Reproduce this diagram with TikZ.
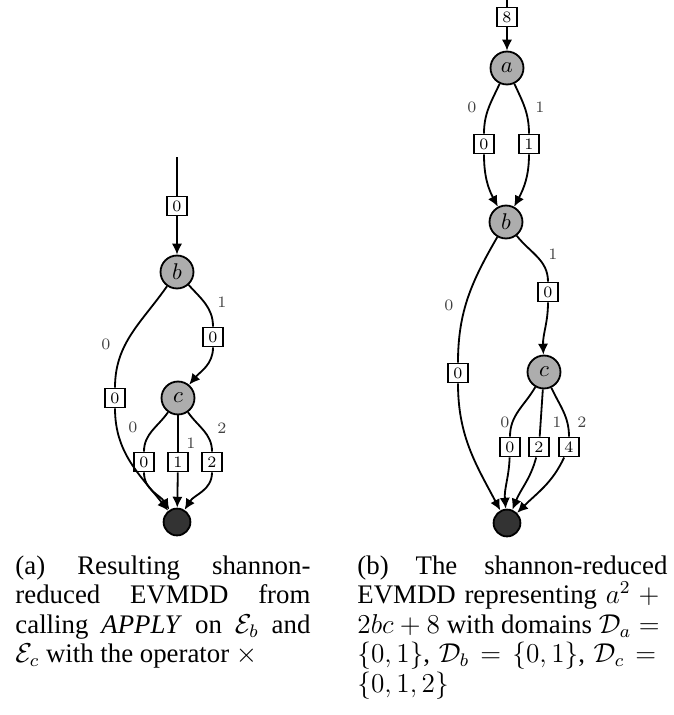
\documentclass[tikz,border=0pt]{standalone}
\usepackage{fontspec}
\setmainfont{Liberation Serif}
\usetikzlibrary{arrows.meta}

\begin{document}
\begin{tikzpicture}[x=0.44pt, y=0.44pt,
    var/.style={circle, draw, thick, fill=black!32, minimum size=14.5pt, inner sep=0pt},
    term/.style={circle, draw, thick, fill=black!80, minimum size=11.8pt, inner sep=0pt},
    ev/.style={draw, thick, fill=white, minimum width=8.8pt, minimum height=8.4pt, inner sep=0pt, font=\scriptsize},
    lbl/.style={font=\scriptsize, text=black!75},
    arc/.style={thick, -{Latex[length=4.8pt,width=4.5pt]}},
    capt/.style={anchor=north west, inner sep=0pt, align=justify,
        font=\fontsize{11.8}{13}\selectfont}]
    \useasboundingbox (0,0) rectangle (673,-715);

    % (a) resultado de APPLY
    \coordinate (ltop) at (177,-157);
    \node[ev] (le) at (177,-206) {$0$};
    \node[var] (lb) at (177,-272) {$b$};
    \node[ev] (lb0) at (115,-398) {$0$};
    \node[ev] (lb1) at (213,-337) {$0$};
    \node[var] (lc) at (178,-398) {$c$};
    \node[ev] (lc0) at (144,-462) {$0$};
    \node[ev] (lc1) at (178,-462) {$1$};
    \node[ev] (lc2) at (212,-462) {$2$};
    \node[term] (lt) at (177,-522) {};

    \draw[thick] (ltop) -- (le);
    \draw[arc] (le) -- (lb);
    \draw[thick] (lb) to[out=235,in=90] (lb0);
    \draw[arc] (lb0) to[out=-90,in=128] (lt);
    \draw[thick] (lb) to[out=-48,in=90] (lb1);
    \draw[arc] (lb1) to[out=-90,in=50] (lc);
    \draw[thick] (lc) to[out=235,in=90] (lc0);
    \draw[arc] (lc0) to[out=-90,in=122] (lt);
    \draw[thick] (lc) -- (lc1);
    \draw[arc] (lc1) -- (lt);
    \draw[thick] (lc) to[out=-55,in=90] (lc2);
    \draw[arc] (lc2) to[out=-90,in=58] (lt);

    \node[lbl] (la1) at (222,-302) {$1$};
    \node[lbl] (la0) at (106,-344) {$0$};
    \node[lbl] (lac0) at (133,-427) {$0$};
    \node[lbl] (lac1) at (191,-443) {$1$};
    \node[lbl] (lac2) at (222,-428) {$2$};

    % (b) a^2 + 2bc + 8
    \coordinate (rtop) at (507,0);
    \node[ev] (re) at (507,-17) {$8$};
    \node[var] (ra) at (507,-68) {$a$};
    \node[ev] (ra0) at (484,-144) {$0$};
    \node[ev] (ra1) at (529,-144) {$1$};
    \node[var] (rb) at (506,-222) {$b$};
    \node[ev] (rb1) at (548,-292) {$0$};
    \node[ev] (rb0) at (458,-373) {$0$};
    \node[var] (rc) at (544,-372) {$c$};
    \node[ev] (rc0) at (510,-447) {$0$};
    \node[ev] (rc1) at (539,-447) {$2$};
    \node[ev] (rc2) at (569,-447) {$4$};
    \node[term] (rt) at (507,-523) {};

    \draw[thick] (rtop) -- (re);
    \draw[arc] (re) -- (ra);
    \draw[thick] (ra) to[out=245,in=90] (ra0);
    \draw[arc] (ra0) to[out=-90,in=118] (rb);
    \draw[thick] (ra) to[out=-65,in=90] (ra1);
    \draw[arc] (ra1) to[out=-90,in=62] (rb);
    \draw[thick] (rb) to[out=-52,in=90] (rb1);
    \draw[arc] (rb1) to[out=-90,in=92] (rc);
    \draw[thick] (rb) to[out=240,in=90] (rb0);
    \draw[arc] (rb0) to[out=-90,in=118] (rt);
    \draw[thick] (rc) to[out=240,in=90] (rc0);
    \draw[arc] (rc0) to[out=-92,in=95] (rt);
    \draw[thick] (rc) -- (rc1);
    \draw[arc] (rc1) to[out=-105,in=68] (rt);
    \draw[thick] (rc) to[out=-65,in=90] (rc2);
    \draw[arc] (rc2) to[out=-115,in=45] (rt);

    \node[lbl] (ra0l) at (472,-107) {$0$};
    \node[lbl] (ra1l) at (540,-107) {$1$};
    \node[lbl] (rb1l) at (553,-254) {$1$};
    \node[lbl] (rb0l) at (449,-305) {$0$};
    \node[lbl] (rc0l) at (505,-422) {$0$};
    \node[lbl] (rc1l) at (557,-422) {$1$};
    \node[lbl] (rc2l) at (582,-422) {$2$};

    % leyendas
    \node[capt, text width=129.8pt] (capa) at (15,-555)
        {(a) Resulting shannon-\linebreak reduced EVMDD from\linebreak
         calling \textit{APPLY} on $\mathcal{E}_b$ and\linebreak
         $\mathcal{E}_c$ with the operator $\times$};
    \node[capt, text width=136.4pt] (capb) at (357,-555)
        {(b) The shannon-reduced\linebreak EVMDD representing $a^2 +{}$\linebreak
         $2bc + 8$ with domains $\mathcal{D}_a ={}$\linebreak
         $\{0,1\}$, $\mathcal{D}_b = \{0,1\}$, $\mathcal{D}_c ={}$\linebreak
         $\{0,1,2\}$};
\end{tikzpicture}
\end{document}
